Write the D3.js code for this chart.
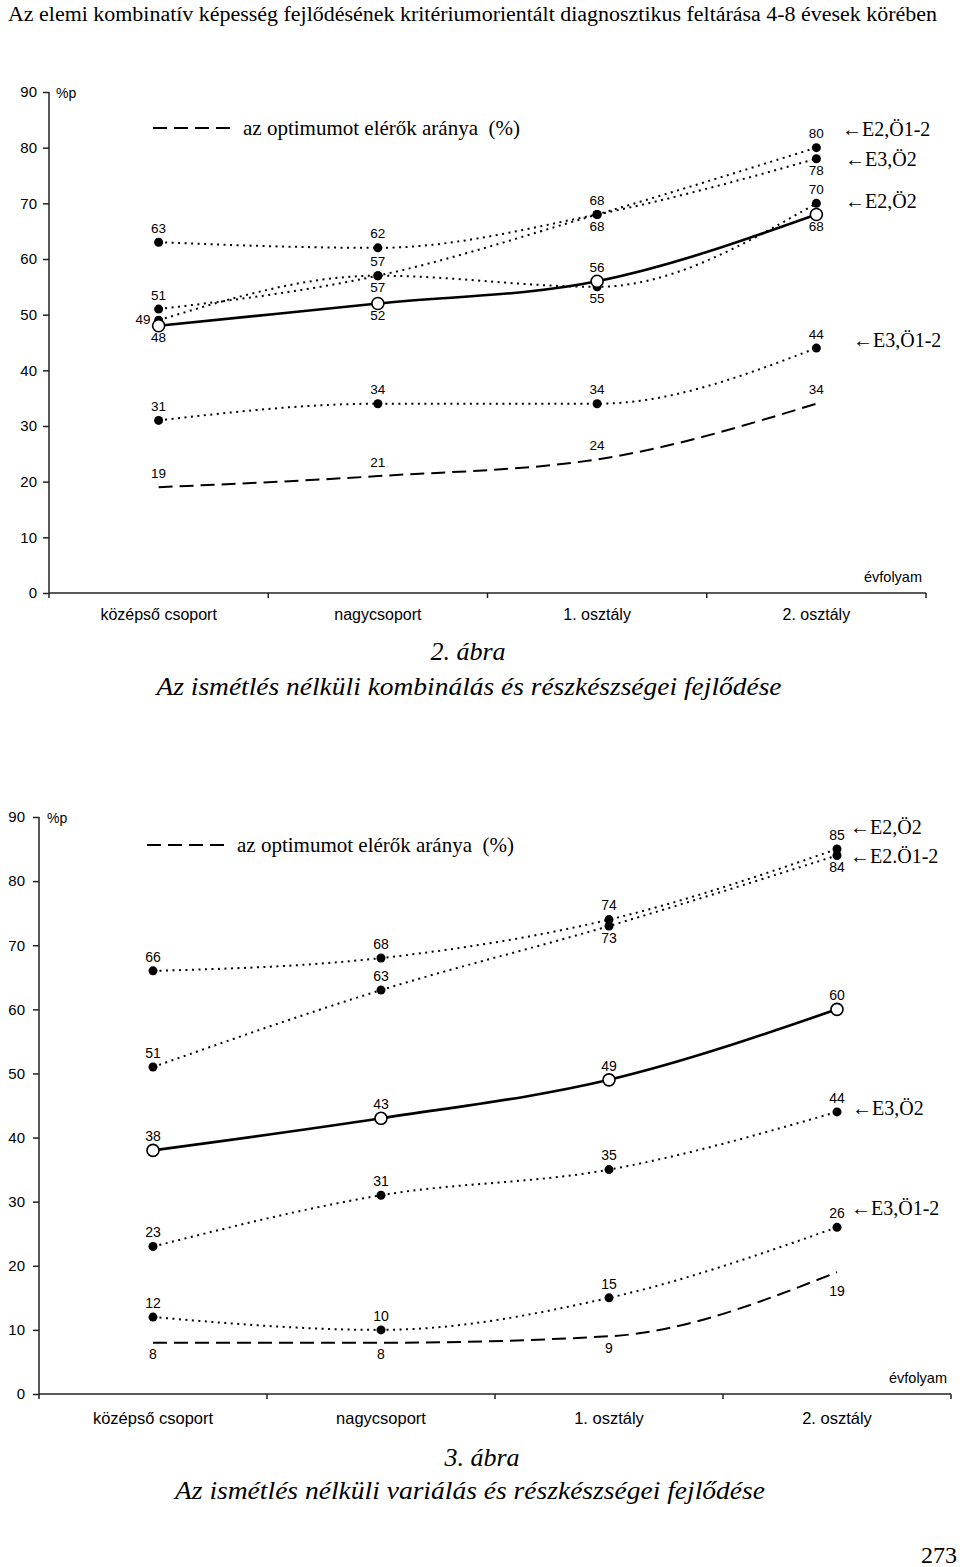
<!DOCTYPE html>
<html>
<head>
<meta charset="utf-8">
<script src="https://cdn.jsdelivr.net/npm/d3@7/dist/d3.min.js"></script>
<style>
  html, body { margin: 0; padding: 0; background: #fff; }
  svg { display: block; }
  text { fill: #000; }
</style>
</head>
<body>
<svg id="page" width="960" height="1567"></svg>
<script>
// ---------------- DATA ----------------
const pageHeader = "Az elemi kombinatív képesség fejlődésének kritériumorientált diagnosztikus feltárása 4-8 évesek körében";
const pageNumber = "273";
const categories = ["középső csoport", "nagycsoport", "1. osztály", "2. osztály"];
const yTicks = [0, 10, 20, 30, 40, 50, 60, 70, 80, 90];
const legendText = "az optimumot elérők aránya  (%)";
const yUnit = "%p";
const xUnit = "évfolyam";

// Figure 2: kombinálás
const fig2Caption = ["2. ábra", "Az ismétlés nélküli kombinálás és részkészségei fejlődése"];
const fig2Total    = [48, 52, 56, 68];
const fig2Optimum  = [19, 21, 24, 34];
const fig2E2O12    = [51, 57, 68, 80];
const fig2E3O2     = [63, 62, 68, 78];
const fig2E2O2     = [49, 57, 55, 70];
const fig2E3O12    = [31, 34, 34, 44];
const fig2Names    = ["E2,Ö1-2", "E3,Ö2", "E2,Ö2", "E3,Ö1-2"];
const fig2NameAt   = [83, 77.5, 70, 45];   // y level (data units) of the side names

// Figure 3: variálás
const fig3Caption = ["3. ábra", "Az ismétlés nélküli variálás és részkészségei fejlődése"];
const fig3Total    = [38, 43, 49, 60];
const fig3Optimum  = [8, 8, 9, 19];
const fig3E2O2     = [66, 68, 74, 85];
const fig3E2O12    = [51, 63, 73, 84];
const fig3E3O2     = [23, 31, 35, 44];
const fig3E3O12    = [12, 10, 15, 26];
const fig3Names    = ["E2,Ö2", "E2.Ö1-2", "E3,Ö2", "E3,Ö1-2"];
const fig3NameAt   = [88, 83.5, 44.3, 28.7];

// label placement per point (style, not data)
const fig2Place = {
  total:   ["below", "below", "above", "below"],
  optimum: ["above", "above", "above", "above"],
  e2o12:   ["above", "above", "above", "above"],
  e3o2:    ["above", "above", "below", "below"],
  e2o2:    ["left",  "below", "below", "above"],
  e3o12:   ["above", "above", "above", "above"]
};
const fig3Place = {
  total:   ["above", "above", "above", "above"],
  optimum: ["below", "below", "below", "below2"],
  e2o2:    ["above", "above", "above", "above"],
  e2o12:   ["above", "above", "below", "below"],
  e3o2:    ["above", "above", "above", "above"],
  e3o12:   ["above", "above", "above", "above"]
};

// ---------------- DRAWING ----------------
const svg = d3.select("#page");
const SANS = "'Liberation Sans', Arial, sans-serif";
const SERIF = "'Liberation Serif', 'Times New Roman', serif";

svg.append("text")
  .attr("x", 8).attr("y", 21)
  .attr("font-family", SERIF).attr("font-size", 20)
  .attr("textLength", 929).attr("lengthAdjust", "spacingAndGlyphs")
  .text(pageHeader);

svg.append("text")
  .attr("x", 957).attr("y", 1563)
  .attr("text-anchor", "end")
  .attr("font-family", SERIF).attr("font-size", 24)
  .text(pageNumber);

function drawChart(cfg) {
  const g = svg.append("g");
  const x = d3.scaleBand().domain(categories).range([cfg.x0, cfg.x1]);
  const y = d3.scaleLinear().domain([0, 90]).range([cfg.yBottom, cfg.yTop]);
  const cx = c => x(c) + x.bandwidth() / 2;

  // y axis
  const ya = g.append("g").attr("transform", `translate(${cfg.x0},0)`)
    .call(d3.axisLeft(y).tickValues(yTicks).tickSize(6).tickPadding(cfg.yPad).tickSizeOuter(0));
  ya.select(".domain").attr("stroke", "#222").attr("stroke-width", 1.5)
    .attr("d", `M0,${cfg.yBottom}V${cfg.yTop}`);
  ya.selectAll(".tick line").attr("stroke", "#222").attr("stroke-width", 1.5);
  ya.selectAll(".tick text").attr("font-family", SANS).attr("font-size", 15).attr("fill", "#000");

  // x axis
  const xa = g.append("g").attr("transform", `translate(0,${cfg.yBottom})`)
    .call(d3.axisBottom(x).tickSize(0).tickPadding(cfg.xPad).tickSizeOuter(0));
  xa.select(".domain").attr("stroke", "#222").attr("stroke-width", 1.5)
    .attr("d", `M${cfg.x0},0H${cfg.x1}`);
  xa.selectAll(".tick text").attr("font-family", SANS).attr("font-size", cfg.catSize).attr("fill", "#000");
  const bounds = categories.map(c => x(c)).concat([x(categories[categories.length - 1]) + x.bandwidth()]);
  g.selectAll(".xb").data(bounds).enter().append("line")
    .attr("x1", d => d).attr("x2", d => d)
    .attr("y1", cfg.yBottom).attr("y2", cfg.yBottom + 5)
    .attr("stroke", "#222").attr("stroke-width", 1.5);

  // units
  g.append("text").attr("x", cfg.x0 + cfg.unitDx).attr("y", cfg.yTop + 2)
    .attr("dominant-baseline", "middle")
    .attr("font-family", SANS).attr("font-size", 14).text(yUnit);
  g.append("text").attr("x", cfg.x1 - 4).attr("y", cfg.yBottom - 15)
    .attr("text-anchor", "end").attr("dominant-baseline", "middle")
    .attr("font-family", SANS).attr("font-size", 14.5).text(xUnit);

  // legend
  g.append("line").attr("x1", cfg.legX).attr("x2", cfg.legX + 77)
    .attr("y1", cfg.legY).attr("y2", cfg.legY)
    .attr("stroke", "#000").attr("stroke-width", 2).attr("stroke-dasharray", "14,7");
  g.append("text").attr("x", cfg.legX + 90).attr("y", cfg.legY + 7)
    .attr("font-family", SERIF).attr("font-size", 21)
    .attr("xml:space", "preserve").style("white-space", "pre")
    .text(legendText);

  const line = d3.line().x((d, i) => cx(categories[i])).y(d => y(d))
    .curve(d3.curveMonotoneX);

  // series
  cfg.series.forEach(s => {
    const st = s.type;
    g.append("path").datum(s.values).attr("d", line)
      .attr("fill", "none").attr("stroke", "#000")
      .attr("stroke-width", st === "solid" ? 2.6 : 2)
      .attr("stroke-dasharray", st === "solid" ? null : (st === "dashed" ? "14,7" : "2,4.5"))
      .attr("stroke-linecap", "butt");
  });
  cfg.series.forEach(s => {
    if (s.type === "dotted") {
      g.selectAll(null).data(s.values).enter().append("circle")
        .attr("cx", (d, i) => cx(categories[i])).attr("cy", d => y(d))
        .attr("r", 4.5).attr("fill", "#000");
    } else if (s.type === "solid") {
      g.selectAll(null).data(s.values).enter().append("circle")
        .attr("cx", (d, i) => cx(categories[i])).attr("cy", d => y(d))
        .attr("r", 6).attr("fill", "#fff").attr("stroke", "#000").attr("stroke-width", 1.6);
    }
  });
  cfg.series.forEach(s => {
    g.selectAll(null).data(s.values).enter().append("text")
      .attr("x", (d, i) => {
        const p = s.place[i];
        return p === "left" ? cx(categories[i]) - 8 : cx(categories[i]);
      })
      .attr("y", (d, i) => {
        const p = s.place[i];
        if (p === "above") return y(d) - 13;
        if (p === "below") return y(d) + 13;
        if (p === "below2") return y(d) + 20;
        return y(d);
      })
      .attr("text-anchor", (d, i) => s.place[i] === "left" ? "end" : "middle")
      .attr("dominant-baseline", "middle")
      .attr("font-family", SANS).attr("font-size", cfg.lblSize)
      .text(d => d);
  });

  // side names
  cfg.names.forEach((n, i) => {
    g.append("text").attr("x", cfg.nameX[i]).attr("y", y(cfg.nameAt[i]))
      .attr("dominant-baseline", "middle")
      .attr("font-family", SERIF).attr("font-size", 20)
      .text("\u2190" + n);
  });

  // captions
  g.append("text").attr("x", cfg.capX[0]).attr("y", cfg.capY[0])
    .attr("text-anchor", "middle").attr("font-family", SERIF).attr("font-style", "italic")
    .attr("font-size", 26).text(cfg.caption[0]);
  g.append("text").attr("x", cfg.capX[1]).attr("y", cfg.capY[1])
    .attr("text-anchor", "middle").attr("font-family", SERIF).attr("font-style", "italic")
    .attr("font-size", 26)
    .attr("textLength", cfg.capW).attr("lengthAdjust", "spacingAndGlyphs")
    .text(cfg.caption[1]);
}

drawChart({
  x0: 49, x1: 926, yTop: 92, yBottom: 593, yPad: 6, xPad: 16, unitDx: 7,
  catSize: 16, lblSize: 13.5,
  legX: 153, legY: 128,
  series: [
    { type: "dashed", values: fig2Optimum, place: fig2Place.optimum },
    { type: "dotted", values: fig2E3O12, place: fig2Place.e3o12 },
    { type: "dotted", values: fig2E2O2, place: fig2Place.e2o2 },
    { type: "dotted", values: fig2E3O2, place: fig2Place.e3o2 },
    { type: "dotted", values: fig2E2O12, place: fig2Place.e2o12 },
    { type: "solid", values: fig2Total, place: fig2Place.total }
  ],
  names: fig2Names, nameAt: fig2NameAt, nameX: [842, 845, 845, 853],
  caption: fig2Caption, capX: [468, 469], capY: [660, 695], capW: 625
});

drawChart({
  x0: 39, x1: 951, yTop: 817, yBottom: 1394, yPad: 8, xPad: 18, unitDx: 8,
  catSize: 16.5, lblSize: 14,
  legX: 147, legY: 845,
  series: [
    { type: "dashed", values: fig3Optimum, place: fig3Place.optimum },
    { type: "dotted", values: fig3E3O12, place: fig3Place.e3o12 },
    { type: "dotted", values: fig3E3O2, place: fig3Place.e3o2 },
    { type: "dotted", values: fig3E2O12, place: fig3Place.e2o12 },
    { type: "dotted", values: fig3E2O2, place: fig3Place.e2o2 },
    { type: "solid", values: fig3Total, place: fig3Place.total }
  ],
  names: fig3Names, nameAt: fig3NameAt, nameX: [850, 850, 852, 851],
  caption: fig3Caption, capX: [482, 470], capY: [1466, 1499], capW: 590
});
</script>
</body>
</html>
